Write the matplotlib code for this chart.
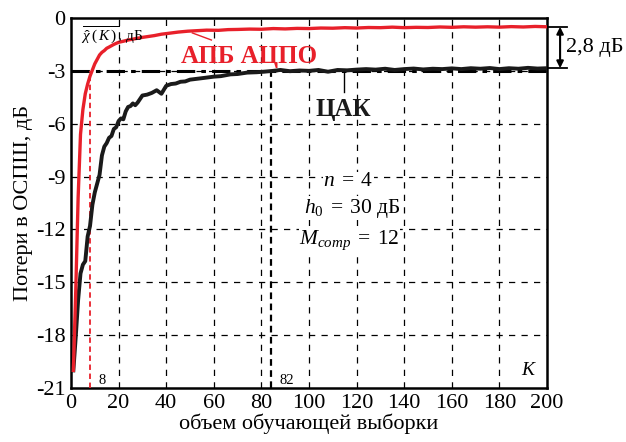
import matplotlib
matplotlib.use("Agg")
import matplotlib.pyplot as plt

plt.rcParams['font.family'] = ['Liberation Serif', 'DejaVu Serif']
plt.rcParams['mathtext.fontset'] = 'custom'
plt.rcParams['mathtext.rm'] = 'Liberation Serif'
plt.rcParams['mathtext.it'] = 'Liberation Serif:italic'

# ---- data ----
red_K = [1, 2, 3, 4, 5, 6, 7, 8, 9, 10, 11, 12, 13, 14, 15, 16, 18, 20, 22, 24, 26, 28, 30,
         32, 35, 38, 41, 45, 49, 53, 57, 62, 66, 70, 75, 80, 85, 90, 95, 100, 105, 110, 115,
         120, 125, 130, 135, 140, 145, 150, 155, 160, 165, 170, 175, 180, 185, 190, 195, 200]
red_vals = [-20.0, -15.5, -10.2, -6.6, -5.2, -4.3, -3.75, -3.3, -2.95, -2.6, -2.35, -2.1, -1.95,
            -1.85, -1.72, -1.65, -1.5, -1.38, -1.32, -1.25, -1.2, -1.15, -1.1, -1.06, -1.0,
            -0.92, -0.87, -0.8, -0.75, -0.72, -0.69, -0.7, -0.66, -0.65, -0.63, -0.64, -0.6,
            -0.62, -0.59, -0.6, -0.57, -0.58, -0.55, -0.57, -0.54, -0.55, -0.52, -0.55, -0.53,
            -0.54, -0.51, -0.53, -0.5, -0.52, -0.5, -0.52, -0.49, -0.51, -0.48, -0.5]

blk_K = [1, 2, 3, 4, 5, 6, 7, 8, 9, 10, 11, 12, 13, 14, 15, 16, 17, 18, 19, 20, 21, 22, 23, 24,
         25, 26, 27, 28, 29, 30, 32, 34, 36, 38, 40, 42, 44, 46, 48, 50, 53, 56, 60, 63, 67, 70,
         74, 78, 81, 85, 88, 92, 96, 100, 104, 108, 112, 116, 120, 124, 128, 132, 136, 140, 144,
         148, 152, 156, 160, 164, 168, 172, 176, 180, 184, 188, 192, 196, 200]
blk_vals = [-20.0, -18.1, -16.0, -14.5, -14.0, -13.8, -12.4, -11.8, -10.6, -9.9, -9.4, -8.9, -7.8,
            -7.3, -7.1, -6.8, -6.7, -6.3, -6.2, -5.85, -5.7, -5.75, -5.3, -5.05, -5.0, -4.85,
            -4.95, -4.8, -4.6, -4.4, -4.35, -4.25, -4.1, -4.3, -3.85, -3.75, -3.72, -3.62, -3.6,
            -3.5, -3.45, -3.4, -3.33, -3.3, -3.2, -3.18, -3.1, -3.08, -3.05, -3.0, -2.95, -3.02,
            -2.98, -3.0, -2.95, -3.05, -2.95, -2.97, -2.93, -2.9, -2.93, -2.88, -2.95, -2.9,
            -2.87, -2.92, -2.88, -2.9, -2.86, -2.9, -2.85, -2.88, -2.84, -2.9, -2.85, -2.88,
            -2.83, -2.87, -2.85]

x_ticks = [0, 20, 40, 60, 80, 100, 120, 140, 160, 180, 200]
y_ticks = [-21, -18, -15, -12, -9, -6, -3, 0]
K_red_mark = 8
K_blk_mark = 84
level_3dB = -3
top_level = -0.5
bot_level = -2.85

fig = plt.figure(figsize=(6.26, 4.42), dpi=100)
ax = fig.add_axes([0.1134, 0.1222, 0.7604, 0.8371])
ax.set_xlim(0, 200)
ax.set_ylim(-21, 0)
ax.set_xticks(x_ticks)
ax.set_yticks(y_ticks)
ax.set_yticklabels([str(v) for v in y_ticks])
ax.tick_params(length=0, labelsize=16, pad=4)
for s in ax.spines.values():
    s.set_linewidth(1.8)

for xv in x_ticks[1:-1]:
    ax.axvline(xv, color='black', lw=0.9, ls=(0, (5, 5)), zorder=1)
for yv in y_ticks[1:-1]:
    ax.axhline(yv, color='black', lw=0.9, ls=(0, (5, 5)), zorder=1)

# -3 dB dash-dot line
ax.plot([0, 200], [level_3dB, level_3dB], color='black', lw=2.2,
        ls=(0, (6, 2, 1.5, 2)), zorder=3)

# marker lines
ax.plot([K_red_mark, K_red_mark], [-21, level_3dB], color='#e8202a', lw=1.3,
        ls=(0, (3, 2)), zorder=3)
ax.plot([K_blk_mark, K_blk_mark], [-21, level_3dB], color='black', lw=1.6,
        ls=(0, (3, 2)), zorder=3)

ax.plot(blk_K, blk_vals, color='#1a1a1a', lw=2.8, zorder=4)
ax.plot(red_K, red_vals, color='#e8202a', lw=2.4, zorder=5)

# labels
ax.text(13, -20.55, '8', fontsize=10.5, ha='center', va='center')
ax.text(90.5, -20.55, '82', fontsize=10.5, ha='center', va='center')
ax.text(192.5, -20.0, '$K$', fontsize=14, ha='center', va='center')

ax.text(4, -0.36, r'$\overline{\hat{\chi}\;(\,K\,)\,}$, дБ', fontsize=11, ha='left', va='top',
        zorder=6)

ax.text(75, -2.2, 'АПБ АЦПО', color='#e8202a', fontsize=18, fontweight='bold',
        ha='center', va='center', zorder=7)
ax.plot([51, 59], [-0.85, -1.25], color='#e8202a', lw=1.0, zorder=6)

ax.text(114.5, -5.2, 'ЦАК', color='#1a1a1a', fontsize=18, fontweight='bold',
        ha='center', va='center', zorder=7)
ax.plot([114.5, 114.5], [-3.05, -4.2], color='black', lw=1.0, zorder=6)

ax.text(116.5, -9.3, r'$n\;=\;4$', fontsize=15.5, ha='center', va='center',
        bbox=dict(facecolor='white', edgecolor='none', pad=0.5), zorder=6)
ax.text(118, -10.8, r'$h_0\;=\;30$ дБ', fontsize=15.5, ha='center', va='center',
        bbox=dict(facecolor='white', edgecolor='none', pad=0.5), zorder=6)
ax.text(117, -12.6, r'$M_{comp}\;=\;12$', fontsize=15.5, ha='center', va='center',
        bbox=dict(facecolor='white', edgecolor='none', pad=0.5), zorder=6)

# right annotation (2,8 dB)
ax.plot([200, 208.4], [top_level, top_level], color='black', lw=1.3, clip_on=False)
ax.plot([200, 208.4], [bot_level, bot_level], color='black', lw=1.3, clip_on=False)
ax.annotate('', xy=(205.5, top_level), xytext=(205.5, bot_level),
            arrowprops=dict(arrowstyle='<|-|>', color='black', lw=1.5,
                            shrinkA=0, shrinkB=0, mutation_scale=10),
            annotation_clip=False)
ax.text(208, -1.65, '2,8 дБ', fontsize=16, ha='left', va='center', clip_on=False)

ax.set_xlabel('объем обучающей выборки', fontsize=16, labelpad=1)
ax.set_ylabel('Потери в ОСПШ, дБ', fontsize=16, labelpad=2)

fig.savefig('out.png', dpi=100)
